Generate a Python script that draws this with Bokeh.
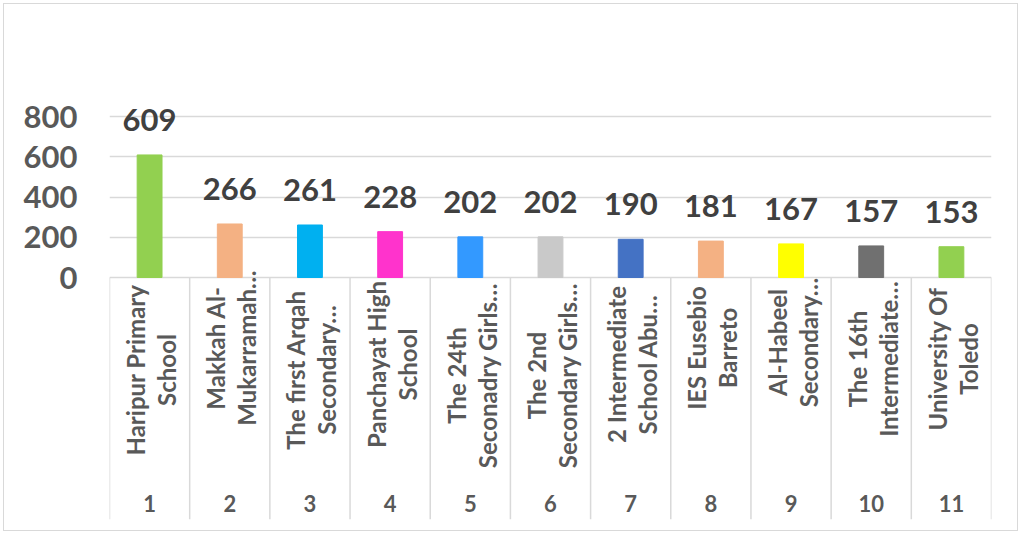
import numpy as np
from bokeh.plotting import figure
from bokeh.models import FixedTicker, Range1d, ColumnDataSource
from bokeh.core.properties import value
from bokeh.embed import file_html
from bokeh.resources import INLINE

# ---- data ----
ranks = [1, 2, 3, 4, 5, 6, 7, 8, 9, 10, 11]
names_line1 = ["Haripur Primary", "Makkah Al-", "The first Arqah", "Panchayat High",
               "The 24th", "The 2nd", "2 Intermediate", "IES Eusebio",
               "Al-Habeel", "The 16th", "University Of"]
names_line2 = ["School", "Mukarramah…", "Secondary…", "School",
               "Seconadry Girls…", "Secondary Girls…", "School Abu…", "Barreto",
               "Secondary…", "Intermediate…", "Toledo"]
counts = [609, 266, 261, 228, 202, 202, 190, 181, 167, 157, 153]
colors = ["#92d050", "#f4b183", "#00b0f0", "#ff33cc", "#3399ff", "#c9c9c9",
          "#4472c4", "#f4b183", "#ffff00", "#707070", "#92d050"]
y_ticks = [0, 200, 400, 600, 800]

FONT = "Lato"

p = figure(width=1015, height=528,
           x_range=Range1d(0.5, 11.5), y_range=Range1d(-1202.5, 974),
           output_backend="svg", toolbar_location=None,
           min_border_left=105, min_border_right=28,
           min_border_top=77, min_border_bottom=13,
           x_axis_location=None)
p.outline_line_color = None
p.styles = {"border": "1px solid #d9d9d9", "margin-left": "3px", "margin-top": "3px"}

# y axis
ax = p.yaxis[0]
ax.ticker = FixedTicker(ticks=y_ticks)
ax.axis_line_color = None
ax.major_tick_line_color = None
ax.minor_tick_line_color = None
ax.major_tick_out = 0
ax.major_label_standoff = 32
ax.major_label_text_font = FONT
ax.major_label_text_font_style = "bold"
ax.major_label_text_font_size = "31px"
ax.major_label_text_color = "#595959"

p.xgrid.visible = False
p.ygrid.ticker = FixedTicker(ticks=y_ticks)
p.ygrid.grid_line_color = "#d9d9d9"
p.ygrid.grid_line_width = 1.5

# separators of category table
xb = np.arange(len(ranks) + 1) + 0.5
p.segment(x0=xb, x1=xb, y0=0, y1=p.y_range.start, line_color="#d9d9d9", line_width=1.5)

CHAR_W = 11.0
block_center = [10 + max(len(a), len(b)) * CHAR_W / 2 for a, b in zip(names_line1, names_line2)]

src = ColumnDataSource(dict(x=ranks, top=counts, color=colors,
                            lab=[str(c) for c in counts],
                            n1=names_line1, n2=names_line2,
                            rank=[str(r) for r in ranks],
                            off=block_center))

p.vbar(x="x", top="top", width=0.31, color="color", source=src)

p.text(x="x", y="top", text="lab", source=src, y_offset=-35,
       text_align="center", text_baseline="alphabetic",
       text_font=value(FONT), text_font_style="bold", text_font_size="31px",
       text_color="#404040")

for col, dx in (("n1", -14), ("n2", 17)):
    p.text(x="x", y=0, text=col, source=src, y_offset="off", x_offset=dx, angle=np.pi / 2,
           text_align="center", text_baseline="middle",
           text_font=value(FONT), text_font_style="bold", text_font_size="24px",
           text_color="#595959")

p.text(x="x", y=0, text="rank", source=src, y_offset=226,
       text_align="center", text_baseline="middle",
       text_font=value(FONT), text_font_style="bold", text_font_size="22px",
       text_color="#595959")

open("out.html", "w").write(file_html(p, INLINE))
